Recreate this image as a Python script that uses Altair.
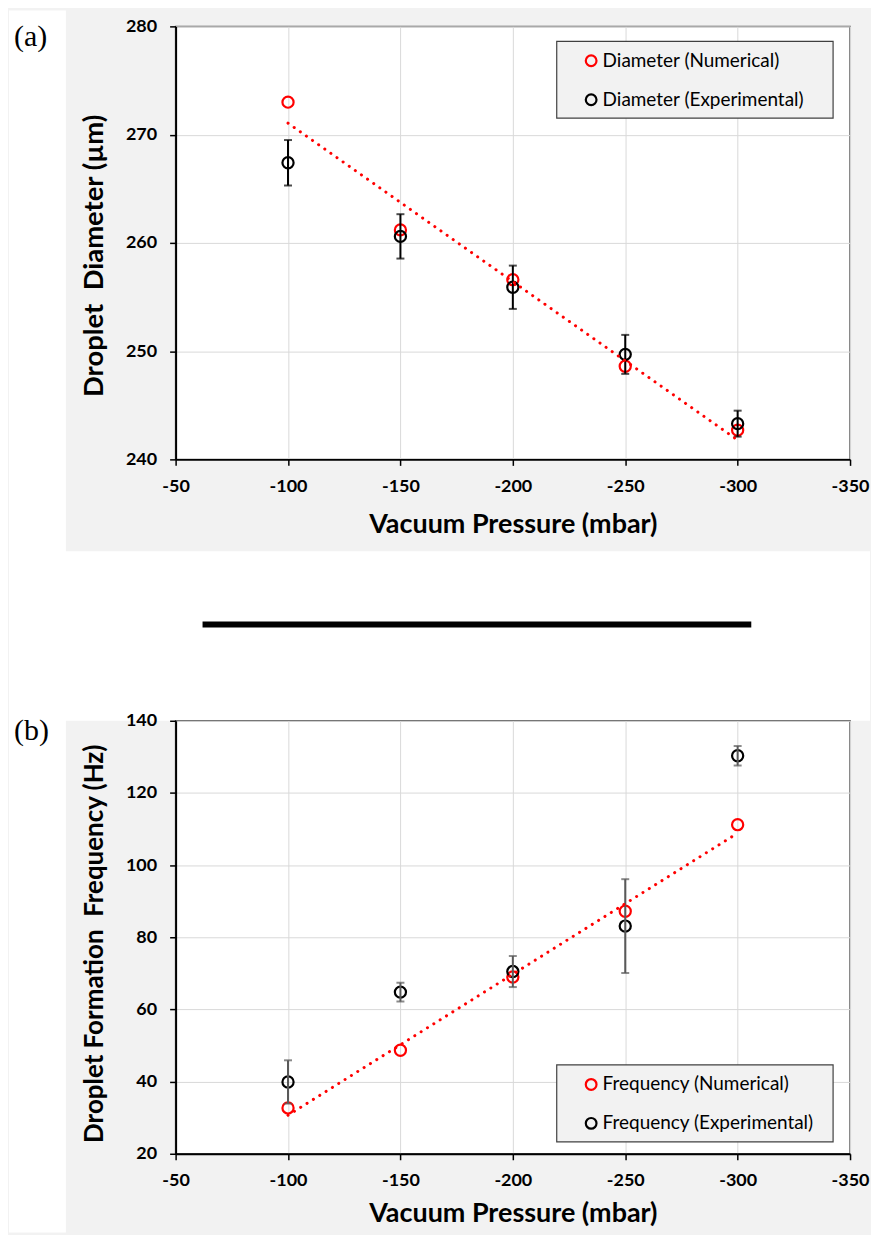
import altair as alt
import pandas as pd

# ---------------- data ----------------
pressure = [-100, -150, -200, -250, -300]
x_ticks = [-50, -100, -150, -200, -250, -300, -350]

diam_series = ["Diameter (Numerical)", "Diameter (Experimental)"]
diam_num = [273.0, 261.2, 256.6, 248.6, 242.7]
diam_exp = [267.4, 260.6, 255.9, 249.7, 243.3]
diam_err = [2.1, 2.05, 2.0, 1.8, 1.2]
diam_ticks = [240, 250, 260, 270, 280]

freq_series = ["Frequency (Numerical)", "Frequency (Experimental)"]
freq_num = [32.7, 48.7, 69.0, 87.2, 111.2]
freq_exp = [39.9, 64.8, 70.5, 83.1, 130.3]
freq_err = [6.0, 2.6, 4.3, 13.0, 2.7]
freq_ticks = [20, 40, 60, 80, 100, 120, 140]

W, H = 676, 434
FONT = "Lato"
RED = "#ff0000"
one = pd.DataFrame({"k": [0]})


def legend_frame(y0, y1):
    return alt.Chart(one).mark_rect(
        fill="#f2f2f2", stroke="#404040", strokeWidth=1.2
    ).encode(x=alt.value(382), x2=alt.value(659), y=alt.value(y0),
             y2=alt.value(y1))


def panel(num, exp, err, names, yticks, ytitle, ytitle_size, title_y,
          xtitle_y, letter, err_color, legend_y, decor):
    df_pts = pd.DataFrame({
        "p": pressure + pressure,
        "v": num + exp,
        "s": [names[0]] * len(num) + [names[1]] * len(exp),
    })
    df_num = pd.DataFrame({"p": pressure, "v": num})
    df_exp = pd.DataFrame({"p": pressure, "v": exp, "e": err})

    xs = alt.Scale(domain=[-350, -50], reverse=True, nice=False)
    ys = alt.Scale(domain=[min(yticks), max(yticks)], nice=False, zero=False)

    xaxis = alt.Axis(
        values=x_ticks, title="Vacuum Pressure (mbar)",
        labelExpr="'' + datum.value",
        grid=True, gridColor="#d9d9d9", gridWidth=1,
        domainColor="#000000", domainWidth=2,
        tickColor="#000000", tickSize=6, tickWidth=1.5,
        labelFont=FONT, labelFontSize=18, labelFontWeight="bold",
        labelColor="#000000", labelPadding=12, labelFlush=False,
        titleFont=FONT, titleFontSize=27, titleFontWeight="bold",
        titleColor="#000000", titleY=xtitle_y, titleBaseline="alphabetic",
    )
    yaxis = alt.Axis(
        values=yticks, title=ytitle,
        labelExpr="'' + datum.value",
        grid=True, gridColor="#d9d9d9", gridWidth=1,
        domainColor="#000000", domainWidth=2,
        tickColor="#000000", tickSize=6, tickWidth=1.5,
        labelFont=FONT, labelFontSize=18, labelFontWeight="bold",
        labelColor="#000000", labelPadding=13, labelFlush=False,
        titleFont=FONT, titleFontSize=ytitle_size, titleFontWeight="bold",
        titleColor="#000000", titleAngle=270, titleAlign="center",
        titleBaseline="middle", titleX=-81, titleY=title_y,
    )

    letter_mark = alt.Chart(one).mark_text(
        text=letter, font="Liberation Serif", fontSize=30, align="left",
        baseline="alphabetic", color="#000000"
    ).encode(x=alt.value(-162), y=alt.value(19.6))

    points = alt.Chart(df_pts).mark_point(
        shape="circle", filled=False, size=125, strokeWidth=2.2, opacity=1
    ).encode(
        x=alt.X("p:Q", scale=xs, axis=xaxis),
        y=alt.Y("v:Q", scale=ys, axis=yaxis),
        color=alt.Color(
            "s:N",
            scale=alt.Scale(domain=names, range=[RED, "#000000"]),
            sort=names,
            legend=alt.Legend(
                title=None, orient="none", legendX=382, legendY=legend_y,
                padding=10, rowPadding=18, labelFont=FONT, labelFontSize=19,
                labelLimit=400, labelColor="#000000",
                symbolType="circle", symbolSize=115, symbolStrokeWidth=2.2,
                symbolOffset=15, labelOffset=2,
            ),
        ),
    )

    bars = alt.Chart(df_exp).transform_calculate(
        lo="datum.v - datum.e", hi="datum.v + datum.e"
    )
    err_rule = bars.mark_rule(color=err_color, strokeWidth=2).encode(
        x="p:Q", y="lo:Q", y2="hi:Q"
    )
    cap_lo = bars.mark_tick(color=err_color, orient="horizontal", size=8,
                            thickness=2).encode(x="p:Q", y="lo:Q")
    cap_hi = bars.mark_tick(color=err_color, orient="horizontal", size=8,
                            thickness=2).encode(x="p:Q", y="hi:Q")

    trend = alt.Chart(df_num).transform_regression("p", "v").mark_line(
        color=RED, strokeWidth=3, strokeDash=[0.1, 7.4], strokeCap="round"
    ).encode(x="p:Q", y="v:Q")

    frame = legend_frame(legend_y, legend_y + 77)

    return alt.layer(*decor, letter_mark, points, err_rule, cap_lo, cap_hi,
                     trend, frame).properties(width=W, height=H)


def white(x0, x1, y0, y1):
    return alt.Chart(one).mark_rect(color="#ffffff").encode(
        x=alt.value(x0), x2=alt.value(x1), y=alt.value(y0), y2=alt.value(y1)
    )


GAP = 262  # vertical space between the two plot areas

sep = alt.Chart(one).mark_rule(color="#000000", strokeWidth=6).encode(
    x=alt.value(27), x2=alt.value(577), y=alt.value(599.5)
)

top = panel(diam_num, diam_exp, diam_err, diam_series, diam_ticks,
            "Droplet\u00a0 Diameter (\u00b5m)", 27.5, 229.5, 73, "(a)",
            "#000000", 15,
            [white(-167, -110, -16, H + GAP), white(-167, 696, 526, H + GAP),
             sep])

bottom = panel(freq_num, freq_exp, freq_err, freq_series, freq_ticks,
               "Droplet Formation\u00a0 Frequency (Hz)", 26, 223, 68, "(b)",
               "#595959", 345, [white(-167, -110, -20, 513)])

chart = alt.vconcat(top, bottom, spacing=GAP, bounds="flush").resolve_scale(
    y="independent", color="independent"
).properties(
    padding=0, background="#f2f2f2"
).configure_view(
    fill="#ffffff", stroke="#595959", strokeWidth=1.5
)

chart.save("out.html", embed_options={"renderer": "svg", "actions": False})
